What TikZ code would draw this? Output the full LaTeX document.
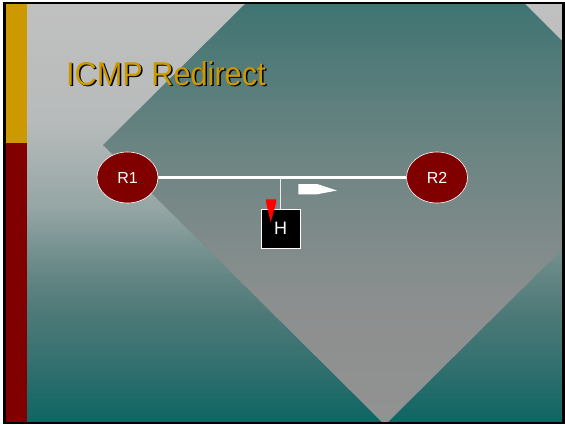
\documentclass[tikz,border=0pt]{standalone}
\usepackage{fontspec}
\setmainfont{Liberation Sans}
\newfontfamily\titlefont[FakeStretch=0.93]{Liberation Sans}
\usepackage{tikz}
\usetikzlibrary{arrows.meta,positioning,calc,shapes.geometric}
\definecolor{routerRed}{HTML}{800000}
\definecolor{stripGold}{HTML}{CC9900}
\definecolor{titleGold}{HTML}{CC9900}
\definecolor{bgA}{HTML}{C0C0C0}
\definecolor{bgB}{HTML}{B8BBBB}
\definecolor{bgC}{HTML}{93A5A4}
\definecolor{bgD}{HTML}{6D8C8A}
\definecolor{bgE}{HTML}{4E7A78}
\definecolor{bgF}{HTML}{357170}
\definecolor{bgG}{HTML}{0D6563}
\definecolor{dmA}{HTML}{3F7472}
\definecolor{dmB}{HTML}{6A8482}
\definecolor{dmC}{HTML}{8C8F8F}
\definecolor{dmD}{HTML}{929292}

\begin{document}
\begin{tikzpicture}[x=1pt,y=-1pt]
  \tikzstyle{routerNode}=[ellipse,draw=white,line width=0.6pt,fill=routerRed,minimum width=61pt,minimum height=51pt,inner sep=0pt,text=white,font=\fontsize{16}{16}\selectfont]
  \tikzstyle{hostNode}=[rectangle,draw=white,line width=0.5pt,fill=black,minimum width=38.5pt,minimum height=38.5pt,inner sep=0pt,text=white,font=\fontsize{18}{18}\selectfont]
  \tikzstyle{titleText}=[anchor=base west,inner sep=0pt,font=\titlefont\fontsize{33}{33}\selectfont]
  \useasboundingbox (0,0) rectangle (565,424);
  \fill[white] (0,0) rectangle (565,424);
  \foreach \ya/\yb/\ca/\cb in {3/120/bgA/bgB,120/210/bgB/bgC,210/260/bgC/bgD,260/310/bgD/bgE,310/360/bgE/bgF,360/422/bgF/bgG}
    \shade[top color=\ca,bottom color=\cb] (4,\ya) rectangle (563,\yb+0.6);
  \begin{scope}
    \clip (103,145) -- (385,-135) -- (667,145) -- (385,425) -- cycle;
    \foreach \ya/\yb/\ca/\cb in {3/145/dmA/dmB,145/300/dmB/dmC,300/422/dmC/dmD}
      \shade[top color=\ca,bottom color=\cb] (4,\ya) rectangle (563,\yb+0.6);
  \end{scope}
  \fill[stripGold] (4,3) rectangle (27,143.3);
  \fill[routerRed] (4,143.3) rectangle (27,422);
  \draw[black,line width=2.5pt] (4.3,2.8) rectangle (563.5,422.8);
  \node[titleText,text=black] (titleShadow) at (67.5,86.5) {ICMP Redirect};
  \node[titleText,text=titleGold] (title) at (66,85) {ICMP Redirect};
  \node[routerNode] (r1) at (127.5,177.5) {R1};
  \node[routerNode] (r2) at (437,177.5) {R2};
  \node[hostNode] (h) at (280.5,228.5) {H};
  \coordinate (tap) at (280.5,178);
  \draw[white!85!gray,line width=0.7pt] (tap) -- (h);
  \draw[white,line width=2.5pt] (r1) -- (r2);
  \fill[red] (266,199.3) -- (276.3,199.3) -- (276,203.5) -- (270.7,222.3) -- (266.3,203.5) -- cycle;
  \fill[white] (298.3,184) -- (317,184) -- (337,190.5) -- (317,194.3) -- (298.3,194.3) -- cycle;
\end{tikzpicture}
\end{document}
